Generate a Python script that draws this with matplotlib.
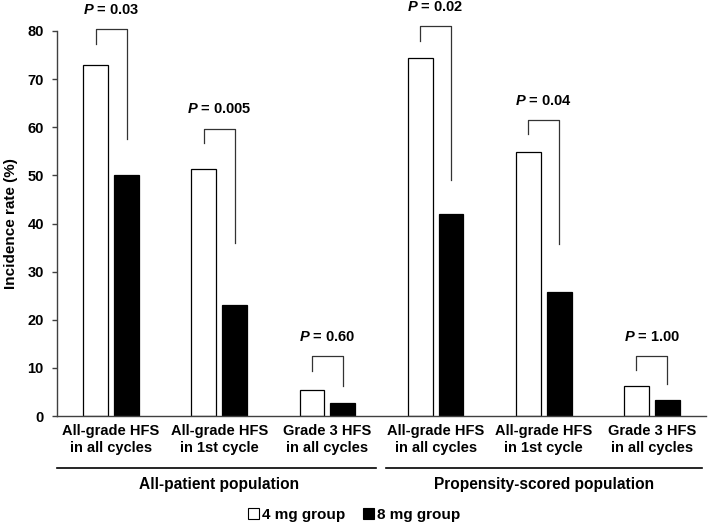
import numpy as np
import matplotlib
matplotlib.use("Agg")
import matplotlib.pyplot as plt
from matplotlib.patches import Patch

plt.rcParams['font.family'] = ['Liberation Sans', 'DejaVu Sans']
plt.rcParams['mathtext.fontset'] = 'custom'
plt.rcParams['mathtext.rm'] = 'Liberation Sans'
plt.rcParams['mathtext.bf'] = 'Liberation Sans:bold'
plt.rcParams['mathtext.bfit'] = 'Liberation Sans:italic:bold'

# data
categories = ["All-grade HFS\nin all cycles", "All-grade HFS\nin 1st cycle", "Grade 3 HFS\nin all cycles",
              "All-grade HFS\nin all cycles", "All-grade HFS\nin 1st cycle", "Grade 3 HFS\nin all cycles"]
populations = ["All-patient population", "Propensity-scored population"]
mg4 = [73.0, 51.4, 5.5, 74.3, 54.9, 6.3]
mg8 = [50.0, 23.0, 2.7, 42.0, 25.8, 3.3]
p_values = ["0.03", "0.005", "0.60", "0.02", "0.04", "1.00"]
series_names = ["4 mg group", "8 mg group"]

# bracket placement (annotation only)
br_top = [80.4, 59.7, 12.4, 81.0, 61.5, 12.5]
br_right_low = [57.6, 36.0, 6.2, 49.0, 35.8, 6.6]

fig = plt.figure(figsize=(7.08, 5.25), dpi=100)
ax = fig.add_axes([57/708, 1-416/525, 649/708, 385/525])

x = np.arange(len(categories))
w = 0.23
off = 0.143
ax.bar(x - off, mg4, w, color='white', edgecolor='black', linewidth=0.9, zorder=2)
ax.bar(x + off, mg8, w, color='black', edgecolor='black', linewidth=0.9, zorder=2)

for i in range(len(categories)):
    top = br_top[i]
    ax.plot([x[i] - off, x[i] - off, x[i] + off, x[i] + off],
            [top - 3.0, top, top, br_right_low[i]],
            color='#333333', lw=0.9, clip_on=False)
    ax.text(x[i], top + 4.0, r"$\mathbfit{P}$ = " + p_values[i], ha='center', va='center',
            fontsize=10.5, fontweight='bold', clip_on=False)

ax.set_xlim(-0.5, 5.5)
ax.set_ylim(0, 80)
ax.set_yticks(np.arange(0, 81, 10))
for s in ['top', 'right']:
    ax.spines[s].set_visible(False)
for s in ['left', 'bottom']:
    ax.spines[s].set_color('#404040')
    ax.spines[s].set_linewidth(1.0)
ax.tick_params(axis='y', length=3.5, width=1.0, color='#404040', pad=6, labelsize=10.5)
ax.tick_params(axis='x', length=0, pad=6)
for lab in ax.get_yticklabels():
    lab.set_fontweight('bold')
ax.set_xticks(x)
ax.set_xticklabels(categories, fontsize=10.5, fontweight='bold', linespacing=1.25)
ax.set_ylabel("Incidence rate (%)", fontsize=11, fontweight='bold', labelpad=7)

# population underlines and labels
tr = ax.get_xaxis_transform()
ax.plot([-0.5, 2.45], [-0.135, -0.135], color='black', lw=1.2, transform=tr, clip_on=False)
ax.plot([2.54, 5.46], [-0.135, -0.135], color='black', lw=1.2, transform=tr, clip_on=False)
ax.text(1, -0.177, populations[0], transform=tr, ha='center', va='center', fontsize=11.2, fontweight='bold')
ax.text(4, -0.177, populations[1], transform=tr, ha='center', va='center', fontsize=11.2, fontweight='bold')

handles = [Patch(facecolor='white', edgecolor='black', linewidth=0.8),
           Patch(facecolor='black', edgecolor='black', linewidth=0.8)]
fig.legend(handles, series_names, loc='center', bbox_to_anchor=(0.5, 1-515/525), ncol=2, frameon=False,
           handlelength=0.7, handleheight=0.7, handletextpad=0.2, columnspacing=1.2,
           prop={'weight': 'bold', 'size': 11})

fig.savefig("out.png", dpi=100)
